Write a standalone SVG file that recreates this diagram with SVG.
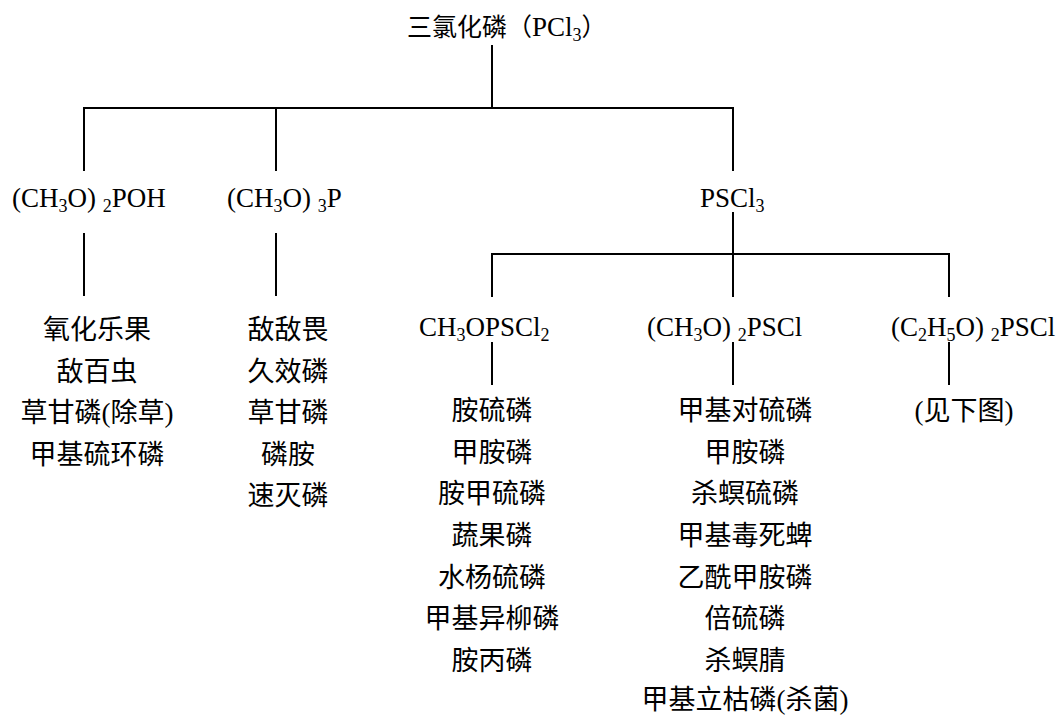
<svg xmlns="http://www.w3.org/2000/svg" width="1059" height="715" viewBox="0 0 1059 715">
<defs>
<style>
text { font-family: "Liberation Serif", "Noto Sans CJK SC", serif; font-size: 27px; fill: #000; }
.list { text-anchor: middle; }
.sub { font-size: 18px; }
.title { font-size: 25px; }
.conn line { stroke: #000; stroke-width: 2; }
</style>
</defs>
<rect width="1059" height="715" fill="#fff"/>
<g id="connectors" class="conn">
<line x1="492" y1="45" x2="492" y2="109"/>
<line x1="83" y1="108" x2="734" y2="108"/>
<line x1="84" y1="107" x2="84" y2="171"/>
<line x1="276" y1="107" x2="276" y2="171"/>
<line x1="733" y1="107" x2="733" y2="171"/>
<line x1="84" y1="233" x2="84" y2="296"/>
<line x1="276" y1="233" x2="276" y2="296"/>
<line x1="733" y1="212" x2="733" y2="297"/>
<line x1="491" y1="254" x2="950" y2="254"/>
<line x1="492" y1="253" x2="492" y2="297"/>
<line x1="949" y1="253" x2="949" y2="297"/>
<line x1="492" y1="342" x2="492" y2="385"/>
<line x1="733" y1="342" x2="733" y2="385"/>
<line x1="949" y1="342" x2="949" y2="385"/>
</g>
<g id="node-pcl3">
<text x="407" y="36"><tspan class="title">三氯化磷（</tspan><tspan>PCl</tspan><tspan class="sub" dy="5">3</tspan><tspan class="title" dy="-5">）</tspan></text>
</g>
<g id="node-ch3o2poh">
<text x="12" y="207">(CH<tspan class="sub" dy="5">3</tspan><tspan dy="-5">O) </tspan><tspan class="sub" dy="5">2</tspan><tspan dy="-5">POH</tspan></text>
</g>
<g id="node-ch3o3p">
<text x="227" y="207">(CH<tspan class="sub" dy="5">3</tspan><tspan dy="-5">O) </tspan><tspan class="sub" dy="5">3</tspan><tspan dy="-5">P</tspan></text>
</g>
<g id="node-pscl3">
<text x="700" y="207">PSCl<tspan class="sub" dy="5">3</tspan></text>
</g>
<g id="node-ch3opscl2">
<text x="419" y="336">CH<tspan class="sub" dy="5">3</tspan><tspan dy="-5">OPSCl</tspan><tspan class="sub" dy="5">2</tspan></text>
</g>
<g id="node-ch3o2pscl">
<text x="647" y="336">(CH<tspan class="sub" dy="5">3</tspan><tspan dy="-5">O) </tspan><tspan class="sub" dy="5">2</tspan><tspan dy="-5">PSCl</tspan></text>
</g>
<g id="node-c2h5o2pscl">
<text x="891" y="336">(C<tspan class="sub" dy="5">2</tspan><tspan dy="-5">H</tspan><tspan class="sub" dy="5">5</tspan><tspan dy="-5">O) </tspan><tspan class="sub" dy="5">2</tspan><tspan dy="-5">PSCl</tspan></text>
</g>
<g id="list-1">
<text class="list" x="97" y="339">氧化乐果</text>
<text class="list" x="97" y="381">敌百虫</text>
<text class="list" x="97" y="422">草甘磷(除草)</text>
<text class="list" x="97" y="464">甲基硫环磷</text>
</g>
<g id="list-2">
<text class="list" x="288" y="339">敌敌畏</text>
<text class="list" x="288" y="381">久效磷</text>
<text class="list" x="288" y="422">草甘磷</text>
<text class="list" x="288" y="464">磷胺</text>
<text class="list" x="288" y="505">速灭磷</text>
</g>
<g id="list-3">
<text class="list" x="492" y="420">胺硫磷</text>
<text class="list" x="492" y="462">甲胺磷</text>
<text class="list" x="492" y="503">胺甲硫磷</text>
<text class="list" x="492" y="545">蔬果磷</text>
<text class="list" x="492" y="587">水杨硫磷</text>
<text class="list" x="492" y="628">甲基异柳磷</text>
<text class="list" x="492" y="670">胺丙磷</text>
</g>
<g id="list-4">
<text class="list" x="745" y="420">甲基对硫磷</text>
<text class="list" x="745" y="462">甲胺磷</text>
<text class="list" x="745" y="503">杀螟硫磷</text>
<text class="list" x="745" y="545">甲基毒死蜱</text>
<text class="list" x="745" y="587">乙酰甲胺磷</text>
<text class="list" x="745" y="628">倍硫磷</text>
<text class="list" x="745" y="670">杀螟腈</text>
<text class="list" x="745" y="709">甲基立枯磷(杀菌)</text>
</g>
<g id="list-5">
<text class="list" x="964" y="420">(见下图)</text>
</g>
</svg>
